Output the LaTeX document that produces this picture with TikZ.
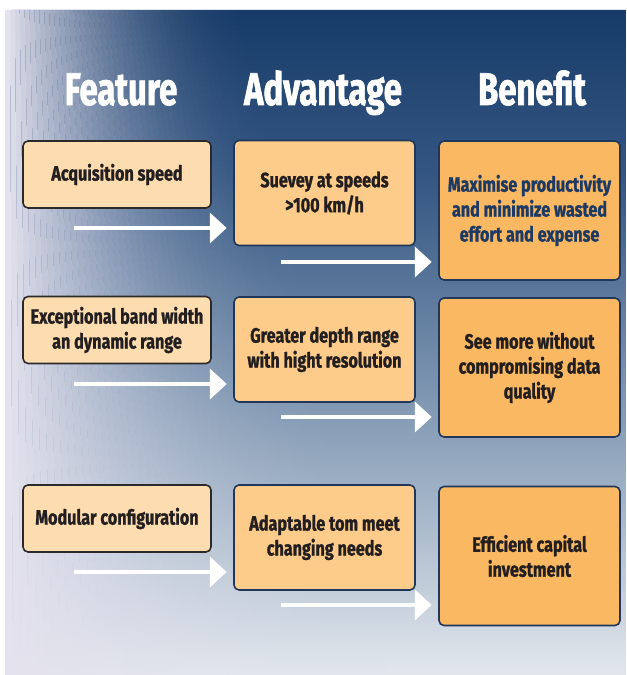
\documentclass[tikz,border=0pt]{standalone}
\usepackage{fontspec}
\setmainfont[FakeStretch=0.78, BoldFeatures={FakeBold=1.2}]{Fira Sans}
\newfontfamily\headfont[FakeStretch=0.72, BoldFeatures={FakeBold=1.5}]{Fira Sans}
\usetikzlibrary{arrows.meta}

\definecolor{bgdark}{RGB}{23,59,104}
\definecolor{bgupper}{RGB}{52,86,130}
\definecolor{bgmid}{RGB}{108,135,166}
\definecolor{bglower}{RGB}{165,182,201}
\definecolor{bglight}{RGB}{226,231,237}
\definecolor{haze}{RGB}{228,226,238}
\definecolor{featfill}{RGB}{253,220,175}
\definecolor{featline}{RGB}{42,42,42}
\definecolor{advfill}{RGB}{253,204,138}
\definecolor{benfill}{RGB}{251,184,98}
\definecolor{boxline}{RGB}{30,55,90}
\definecolor{boxtext}{RGB}{35,31,32}
\definecolor{navytext}{RGB}{29,58,99}

% tikz maps the path onto 25bp..75bp of the shading
\pgfdeclareverticalshading{panelshade}{100bp}{color(0bp)=(bglight); color(25bp)=(bglight); color(37.5bp)=(bglower); color(50bp)=(bgmid); color(62.5bp)=(bgupper); color(75bp)=(bgdark); color(100bp)=(bgdark)}

\tikzset{
  box/.style={draw, rounded corners=0.1cm, line width=0.9pt, align=center, inner sep=0pt,
    font=\fontsize{11.8}{14.2}\selectfont\bfseries, text=boxtext},
  feat/.style={box, fill=featfill, draw=featline, minimum width=3.76cm, minimum height=1.34cm},
  adv/.style={box, fill=advfill, draw=boxline, minimum width=3.62cm, minimum height=2.1cm},
  ben/.style={box, fill=benfill, draw=boxline, minimum width=3.62cm, minimum height=2.78cm},
  head/.style={anchor=base, text=white, font=\headfont\fontsize{26}{30}\selectfont\bfseries},
  flow/.style={white, line width=2.8pt, shorten >=3.7pt, -{Triangle[width=17pt,length=9.6pt]}}
}

\begin{document}
\begin{tikzpicture}[x=0.02cm, y=-0.02cm]
	\useasboundingbox (0,0) rectangle (626,675);

	% background panel
	\shade[shading=panelshade] (5,675) [rounded corners=0.15cm] -- (5,10) [sharp corners] -- (626,10) -- (626,675) -- cycle;
	\foreach \i in {0,...,49} {
		\pgfmathsetmacro\op{(1-\i/50)^2}
		\fill[haze, opacity=\op] (5+\i*4.9,10) -- (9.9+\i*4.9,10) -- (13+\i*8,675) -- (5+\i*8,675) -- cycle;
	}

	% column titles
	\node[head] (hf) at (121,105) {Feature};
	\node[head] (ha) at (323,105) {Advantage};
	\node[head] (hb) at (532,105) {Benefit};

	% features
	\node[feat] (f1) at (117,174.5) {Acquisition speed};
	\node[feat] (f2) at (117,330) {Exceptional band width\\an dynamic range};
	\node[feat] (f3) at (117,518.5) {Modular configuration};

	% advantages
	\node[adv] (a1) at (324.5,193) {Suevey at speeds\\>100 km/h};
	\node[adv] (a2) at (324.5,349.5) {Greater depth range\\with hight resolution};
	\node[adv] (a3) at (324.5,537.5) {Adaptable tom meet\\changing needs};

	% benefits
	\node[ben, text=navytext] (b1) at (529.5,210.5) {Maximise productivity\\and minimize wasted\\effort and expense};
	\node[ben] (b2) at (529.5,367.5) {See more without\\compromising data\\quality};
	\node[ben] (b3) at (529.5,556) {Efficient capital\\investment};

	% arrows
	\coordinate (s1) at (74,228);
	\coordinate (t1) at (281,262);
	\coordinate (s2) at (74,384);
	\coordinate (t2) at (281,417);
	\coordinate (s3) at (74,572);
	\coordinate (t3) at (281,605);
	\draw[flow] (s1) -- (s1 -| a1.west);
	\draw[flow] (t1) -- (t1 -| b1.west);
	\draw[flow] (s2) -- (s2 -| a2.west);
	\draw[flow] (t2) -- (t2 -| b2.west);
	\draw[flow] (s3) -- (s3 -| a3.west);
	\draw[flow] (t3) -- (t3 -| b3.west);
\end{tikzpicture}
\end{document}
